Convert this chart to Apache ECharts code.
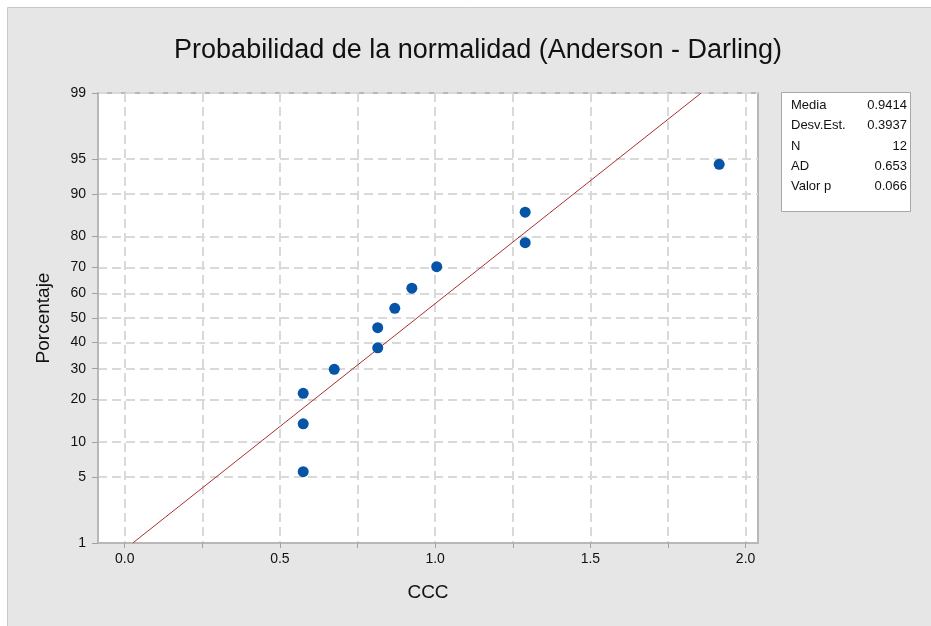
<!DOCTYPE html>
<html>
<head>
<meta charset="utf-8">
<script src="https://cdn.jsdelivr.net/npm/echarts@6/dist/echarts.min.js"></script>
<style>
html,body{margin:0;padding:0;background:#fff;}
#chart{width:931px;height:626px;}
</style>
</head>
<body>
<div id="chart"></div>
<script>
// ---- data ----
const ccc = [0.575, 0.575, 0.575, 0.675, 0.815, 0.815, 0.87, 0.925, 1.005, 1.29, 1.29, 1.915];
const percent = [5.6, 13.7, 21.8, 29.8, 37.9, 46.0, 54.0, 62.1, 70.2, 78.2, 86.3, 94.4];
const fitX = [0.026, 1.857];
const fitP = [1, 99];
const yTicks = [1, 5, 10, 20, 30, 40, 50, 60, 70, 80, 90, 95, 99];
const xLabels = [0, 0.5, 1, 1.5, 2];
const xGrid = [0, 0.25, 0.5, 0.75, 1, 1.25, 1.5, 1.75, 2];
const statLabels = ['Media', 'Desv.Est.', 'N', 'AD', 'Valor p'];
const statValues = ['0.9414', '0.3937', '12', '0.653', '0.066'];

// inverse standard normal CDF (probability-scale transform), Acklam
function probit(p) {
  const a = [-3.969683028665376e+01, 2.209460984245205e+02, -2.759285104469687e+02, 1.383577518672690e+02, -3.066479806614716e+01, 2.506628277459239e+00];
  const b = [-5.447609879822406e+01, 1.615858368580409e+02, -1.556989798598866e+02, 6.680131188771972e+01, -1.328068155288572e+01];
  const c = [-7.784894002430293e-03, -3.223964580411365e-01, -2.400758277161838e+00, -2.549732539343734e+00, 4.374664141464968e+00, 2.938163982698783e+00];
  const d = [7.784695709041462e-03, 3.224671290700398e-01, 2.445134137142996e+00, 3.754408661907416e+00];
  const pl = 0.02425, ph = 1 - pl;
  let q, r;
  if (p < pl) {
    q = Math.sqrt(-2 * Math.log(p));
    return (((((c[0]*q+c[1])*q+c[2])*q+c[3])*q+c[4])*q+c[5]) / ((((d[0]*q+d[1])*q+d[2])*q+d[3])*q+1);
  } else if (p <= ph) {
    q = p - 0.5; r = q * q;
    return (((((a[0]*r+a[1])*r+a[2])*r+a[3])*r+a[4])*r+a[5])*q / (((((b[0]*r+b[1])*r+b[2])*r+b[3])*r+b[4])*r+1);
  } else {
    q = Math.sqrt(-2 * Math.log(1 - p));
    return -(((((c[0]*q+c[1])*q+c[2])*q+c[3])*q+c[4])*q+c[5]) / ((((d[0]*q+d[1])*q+d[2])*q+d[3])*q+1);
  }
}

const yTickZ = yTicks.map(p => probit(p / 100));
const yMin = probit(0.01), yMax = probit(0.99);

const pts = ccc.map((x, i) => [x, probit(percent[i] / 100)]);
const fitLine = fitX.map((x, i) => [x, probit(fitP[i] / 100)]);

const FONT = 'Liberation Sans';
const txtColor = '#111111';

const chart = echarts.init(document.getElementById('chart'), null, {renderer: 'canvas'});

const statTexts = [];
statLabels.forEach((lab, i) => {
  statTexts.push({
    type: 'text', left: 791, top: 99 + i * 20.3, z: 11,
    style: {text: lab, font: '13px "' + FONT + '"', fill: txtColor}
  });
  statTexts.push({
    type: 'text', right: 931 - 907, top: 99 + i * 20.3, z: 11,
    style: {text: statValues[i], font: '13px "' + FONT + '"', fill: txtColor, textAlign: 'right'}
  });
});

chart.setOption({
  backgroundColor: '#ffffff',
  animation: false,
  title: {
    text: 'Probabilidad de la normalidad (Anderson - Darling)',
    left: 473, top: 32, textAlign: 'center',
    textStyle: {fontFamily: FONT, fontSize: 27, fontWeight: 'normal', color: txtColor}
  },
  graphic: [
    {type: 'rect', left: 7, top: 7, z: -100, silent: true,
     shape: {width: 940, height: 640},
     style: {fill: '#e6e6e6', stroke: '#c8c8c8', lineWidth: 1}},
    {type: 'rect', left: 781, top: 92, z: 10, silent: true,
     shape: {width: 129, height: 119},
     style: {fill: '#ffffff', stroke: '#a8a8a8', lineWidth: 1}}
  ].concat(statTexts),
  grid: {
    left: 98, top: 93, right: 173, bottom: 83,
    show: true, backgroundColor: '#ffffff', borderColor: '#b8b8b8', borderWidth: 2
  },
  xAxis: {
    type: 'value', min: -0.086, max: 2.04,
    name: 'CCC', nameLocation: 'middle', nameGap: 40,
    nameTextStyle: {fontFamily: FONT, fontSize: 19, color: txtColor},
    axisLine: {show: true, onZero: false, lineStyle: {color: '#b8b8b8', width: 2}},
    axisTick: {show: true, customValues: xGrid, length: 5, lineStyle: {color: '#a0a0a0'}},
    axisLabel: {customValues: xLabels, margin: 9, fontFamily: FONT, fontSize: 14, color: txtColor,
                formatter: v => Number(v).toFixed(1)},
    splitLine: {show: true, lineStyle: {color: '#d9d9d9', width: 2, type: [9, 5]}}
  },
  yAxis: {
    type: 'value', min: yMin, max: yMax,
    name: 'Porcentaje', nameLocation: 'middle', nameGap: 45, nameRotate: 90,
    nameTextStyle: {fontFamily: FONT, fontSize: 19, color: txtColor},
    axisLine: {show: true, onZero: false, lineStyle: {color: '#b8b8b8', width: 2}},
    axisTick: {show: true, customValues: yTickZ, length: 6, lineStyle: {color: '#a0a0a0'}},
    axisLabel: {customValues: yTickZ, margin: 12, fontFamily: FONT, fontSize: 14, color: txtColor,
      formatter: v => {
        for (let i = 0; i < yTickZ.length; i++) if (Math.abs(yTickZ[i] - v) < 1e-6) return String(yTicks[i]);
        return '';
      }},
    splitLine: {show: true, lineStyle: {color: '#d9d9d9', width: 2, type: [9, 5]}}
  },
  series: [
    {type: 'line', data: fitLine, symbol: 'none', silent: true,
     lineStyle: {color: '#a83030', width: 1}, z: 2},
    {type: 'scatter', data: pts, symbol: 'circle', symbolSize: 11,
     itemStyle: {color: '#0654a6', opacity: 1}, z: 3}
  ]
});
</script>
</body>
</html>
